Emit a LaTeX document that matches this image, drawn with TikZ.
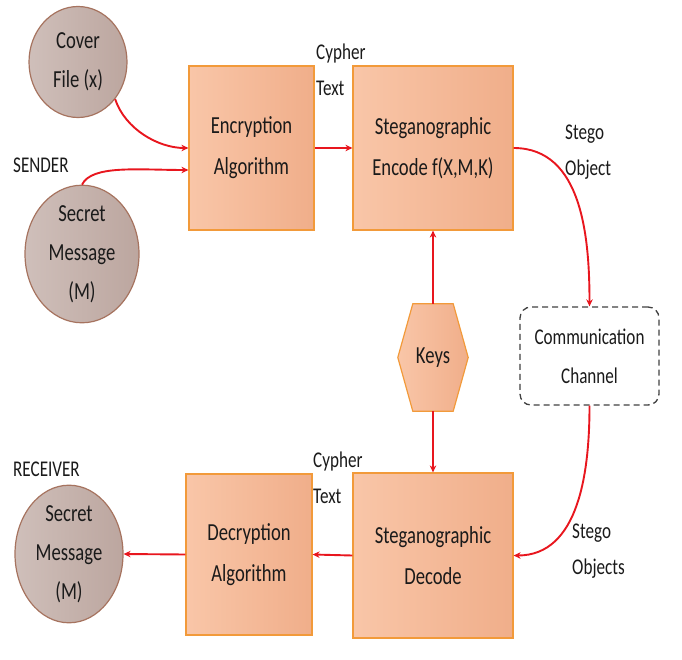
\documentclass[tikz,border=0pt]{standalone}
\usepackage{fontspec}
\setmainfont{Carlito}[FakeStretch=0.76]
\usetikzlibrary{arrows.meta,calc,shapes.geometric}
\definecolor{boxfillA}{HTML}{F9C6A8}
\definecolor{boxfillB}{HTML}{F0AE8A}
\definecolor{boxline}{HTML}{F29A3A}
\definecolor{circA}{HTML}{CFBFBA}
\definecolor{circB}{HTML}{BCA69F}
\definecolor{circline}{HTML}{A6735F}
\definecolor{arrred}{HTML}{E8161E}
\definecolor{txt}{HTML}{1A1A1A}
\tikzset{
  procbox/.style={draw=boxline, line width=1.2pt, left color=boxfillA, right color=boxfillB,
    minimum width=#1, align=center, inner sep=0pt, text=txt,
    font=\fontsize{24.5}{41}\selectfont},
  circnode/.style={ellipse, draw=circline, line width=1.2pt, left color=circA, right color=circB,
    align=center, inner sep=0pt, text=txt, font=\fontsize{24.5}{39}\selectfont},
  lbl/.style={align=left, inner sep=0pt, anchor=west, text=txt, font=\fontsize{22.5}{36}\selectfont},
  flow/.style={draw=arrred, line width=1.9pt, -{Stealth[length=7pt,width=6.5pt]}},
}
\begin{document}
\begin{tikzpicture}[x=1pt,y=1pt]
\useasboundingbox (0,0) rectangle (682,-660);
% boxes
\node[procbox=125pt, minimum height=164pt] (enc) at (251.5,-148) {Encryption\\Algorithm};
\node[procbox=160pt, minimum height=164pt] (encode) at (433,-148) {Steganographic\\Encode f(X,M,K)};
\node[procbox=160pt, minimum height=165pt] (decode) at (433,-555.5) {Steganographic\\Decode};
\node[procbox=126pt, minimum height=161pt] (decry) at (249,-554.5) {Decryption\\Algorithm};
% circles
\node[circnode, minimum width=98pt, minimum height=111pt] (cover) at (78,-62) {Cover\\File (x)};
\node[circnode, minimum width=114pt, minimum height=122pt] (secret) at (82,-254) {Secret\\Message\\(M)};
\node[circnode, minimum width=108pt, minimum height=132pt] (recv) at (69,-554) {Secret\\Message\\(M)};
% keys hexagon
\node[minimum width=70pt, minimum height=107pt, inner sep=0pt] (keys) at (433,-357.5) {};
\draw[draw=boxline, line width=1.2pt, left color=boxfillA, right color=boxfillB]
  ($(keys.north west)+(15,0)$) -- ($(keys.north east)+(-15,0)$) -- (keys.east)
  -- ($(keys.south east)+(-15,0)$) -- ($(keys.south west)+(15,0)$) -- (keys.west) -- cycle;
\node[inner sep=0pt, text=txt, font=\fontsize{24.5}{41}\selectfont] (keystxt) at (keys) {Keys};
% channel
\node[draw=black!75, dash pattern=on 6pt off 4pt, line width=1.3pt, rounded corners=11pt,
  minimum width=139pt, minimum height=98pt, align=center, inner sep=0pt, text=txt,
  font=\fontsize{22.5}{39}\selectfont] (chan) at (589.5,-356) {Communication\\Channel};
% labels
\node[lbl] (ct1) at (316,-70) {Cypher\\Text};
\node[lbl] (so1) at (565,-152) {Stego\\Object};
\node[lbl] (ct2) at (313,-478) {Cypher\\Text};
\node[lbl] (so2) at (572,-551) {Stego\\Objects};
\node[lbl] (snd) at (13,-165) {SENDER};
\node[lbl] (rcv) at (13,-469) {RECEIVER};
% connectors
\coordinate (encin2) at ($(enc.west)+(0,-22)$);
\draw[flow] (cover.-45) .. controls +(10,-30) and +(-30,0) .. (enc.west);
\draw[flow] (secret.north) .. controls +(10,20) and +(-50,0) .. (encin2);
\draw[flow] (enc.east) -- (encode.west);
\draw[flow] (encode.east) to[out=0,in=90] (chan.north);
\draw[flow] (keys.north) -- (encode.south);
\draw[flow] (keys.south) -- (decode.north);
\draw[flow] (chan.south) to[out=-90,in=0] (decode.east);
\draw[flow] (decode.west) -- (decry.east);
\draw[flow] (decry.west) -- (recv.east);
\end{tikzpicture}
\end{document}
